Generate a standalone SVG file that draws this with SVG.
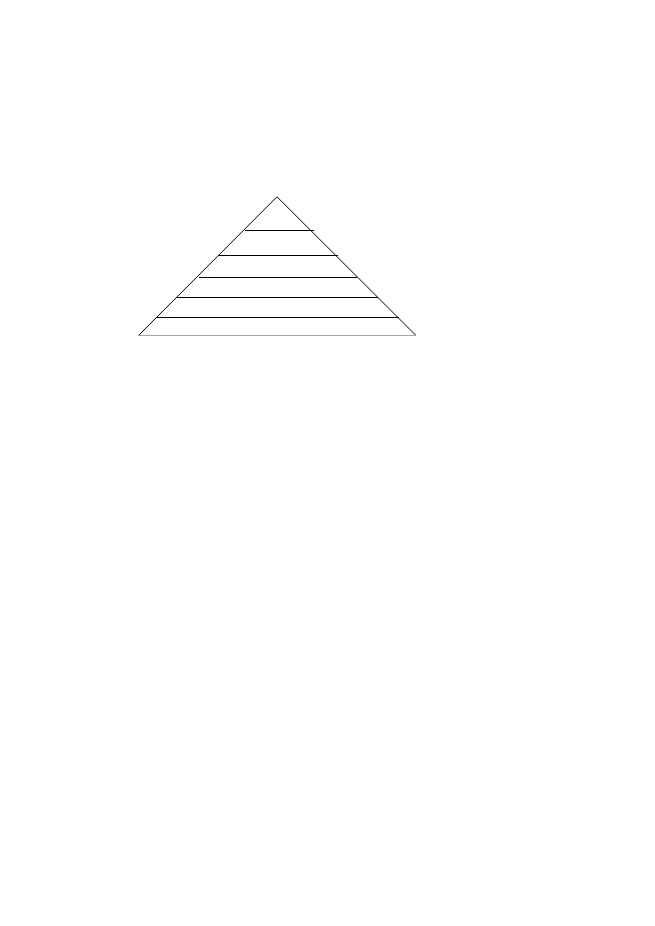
<svg xmlns="http://www.w3.org/2000/svg" width="655" height="926" viewBox="0 0 655 926">
<style>
.edge{stroke:#000;stroke-width:1;fill:none}
.tier{stroke:#000;stroke-width:1;shape-rendering:crispEdges}
.base{stroke:#a6a6a6;stroke-width:1;shape-rendering:crispEdges}
</style>
<rect width="655" height="926" fill="#fff"/>
<g id="pyramid">
<polyline class="edge" points="138.5,335.5 277,196.8 416,335.5"/>
<line class="base" x1="138" y1="335.5" x2="416" y2="335.5"/>
<line class="tier" x1="245" y1="230.5" x2="314" y2="230.5"/>
<line class="tier" x1="218" y1="255.5" x2="338" y2="255.5"/>
<line class="tier" x1="199" y1="277.5" x2="357" y2="277.5"/>
<line class="tier" x1="177" y1="297.5" x2="378" y2="297.5"/>
<line class="tier" x1="157" y1="317.5" x2="399" y2="317.5"/>
</g>
</svg>
